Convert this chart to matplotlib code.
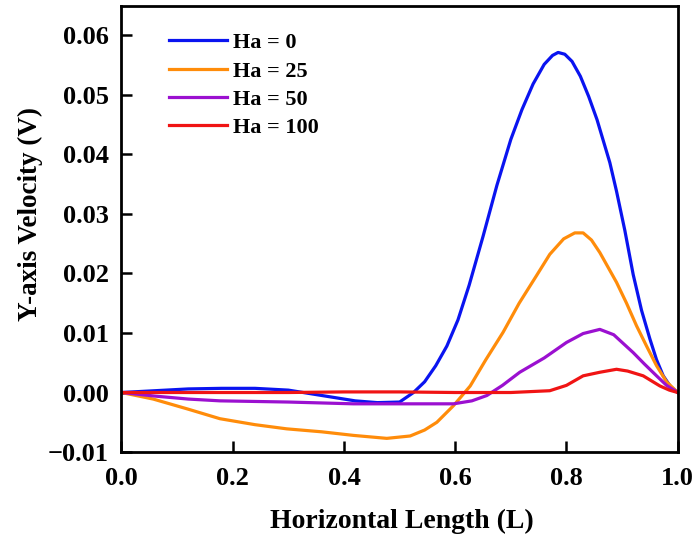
import matplotlib.pyplot as plt

plt.rcParams['font.family'] = ['Liberation Serif', 'DejaVu Serif']
plt.rcParams['font.weight'] = 'bold'

# --- datos ---
x_ha0 = [0.0, 0.06, 0.12, 0.18, 0.24, 0.3, 0.36, 0.42, 0.46, 0.5, 0.525, 0.545, 0.565, 0.585,
         0.605, 0.625, 0.65, 0.675, 0.7, 0.72, 0.74, 0.76, 0.775, 0.785, 0.797, 0.81, 0.825, 0.84,
         0.855, 0.878, 0.89, 0.905, 0.92, 0.935, 0.95, 0.962, 0.974, 0.987, 1.0]
v_ha0 = [0.0, 0.0003, 0.0006, 0.0007, 0.0007, 0.0004, -0.0005, -0.0014, -0.0017, -0.0016, 0.0,
         0.0018, 0.0045, 0.0078, 0.0122, 0.018, 0.0262, 0.0348, 0.0425, 0.0475, 0.0518, 0.0551,
         0.0566, 0.0571, 0.0568, 0.0556, 0.0531, 0.0497, 0.0458, 0.0386, 0.0338, 0.0272, 0.0198,
         0.0138, 0.009, 0.0055, 0.0028, 0.001, 0.0]

x_ha25 = [0.0, 0.057, 0.12, 0.177, 0.24, 0.297, 0.36, 0.417, 0.477, 0.519, 0.545, 0.567, 0.597,
          0.627, 0.655, 0.686, 0.715, 0.746, 0.77, 0.795, 0.815, 0.83, 0.845, 0.86, 0.878, 0.89,
          0.908, 0.926, 0.944, 0.962, 0.98, 1.0]
v_ha25 = [0.0, -0.0011, -0.0028, -0.0044, -0.0054, -0.0061, -0.0066, -0.0072, -0.0077, -0.0073,
          -0.0063, -0.005, -0.0022, 0.0011, 0.0055, 0.0101, 0.015, 0.0196, 0.0232, 0.0258, 0.0268,
          0.0268, 0.0256, 0.0235, 0.0205, 0.0185, 0.015, 0.0112, 0.0078, 0.0045, 0.0018, 0.0]

x_ha50 = [0.0, 0.06, 0.12, 0.177, 0.3, 0.417, 0.5, 0.597, 0.63, 0.657, 0.685, 0.716, 0.76, 0.8,
          0.83, 0.86, 0.885, 0.92, 0.94, 0.962, 0.98, 1.0]
v_ha50 = [0.0, -0.0006, -0.0011, -0.0014, -0.0016, -0.0019, -0.0019, -0.0019, -0.0014, -0.0005,
          0.0012, 0.0034, 0.0058, 0.0084, 0.0099, 0.0106, 0.0097, 0.0067, 0.0048, 0.0028, 0.0012,
          0.0]

x_ha100 = [0.0, 0.1, 0.2, 0.3, 0.4, 0.5, 0.6, 0.7, 0.77, 0.8, 0.83, 0.86, 0.89, 0.91, 0.938,
           0.968, 0.985, 1.0]
v_ha100 = [0.0, 0.0, 0.0, 0.0, 0.0001, 0.0001, 0.0, 0.0, 0.0003, 0.0012, 0.0028, 0.0034, 0.0039,
           0.0036, 0.0028, 0.0011, 0.0004, 0.0]

series = [
    ("Ha = 0", x_ha0, v_ha0, "#0a14f0"),
    ("Ha = 25", x_ha25, v_ha25, "#ff8c0a"),
    ("Ha = 50", x_ha50, v_ha50, "#9b10d0"),
    ("Ha = 100", x_ha100, v_ha100, "#f01414"),
]

fig = plt.figure(figsize=(6.95, 5.44), dpi=100)
ax = fig.add_axes([0.1748, 0.169, 0.8003, 0.820])

for label, xs, ys, color in series:
    ax.plot(xs, ys, color=color, lw=2.3, label=label)

ax.set_xlim(0.0, 1.0)
ax.set_ylim(-0.0098, 0.0649)
ax.set_xticks([0.0, 0.2, 0.4, 0.6, 0.8, 1.0])
ax.set_yticks([-0.01, 0.0, 0.01, 0.02, 0.03, 0.04, 0.05, 0.06])
ax.set_yticklabels(["\u22120.01", "0.00", "0.01", "0.02", "0.03", "0.04", "0.05", "0.06"])
ax.tick_params(direction="in", length=8, width=1.8, labelsize=19)
ax.tick_params(axis="x", pad=11)
ax.tick_params(axis="y", pad=9)
for s in ax.spines.values():
    s.set_linewidth(2)

ax.set_xlabel("Horizontal Length (L)", fontsize=20, fontweight="bold", va="top")
ax.xaxis.set_label_coords(0.505, -0.128)
ax.set_ylabel("Y-axis Velocity (V)", fontsize=19.5, fontweight="bold", va="bottom")
ax.yaxis.set_label_coords(-0.142, 0.534)

leg = ax.legend(loc="upper left", bbox_to_anchor=(0.05, 0.985), frameon=False,
                fontsize=16, handlelength=2.6, handletextpad=0.25, labelspacing=0.35)
for t in leg.get_texts():
    t.set_fontweight("bold")

fig.savefig("out.png", dpi=100)
